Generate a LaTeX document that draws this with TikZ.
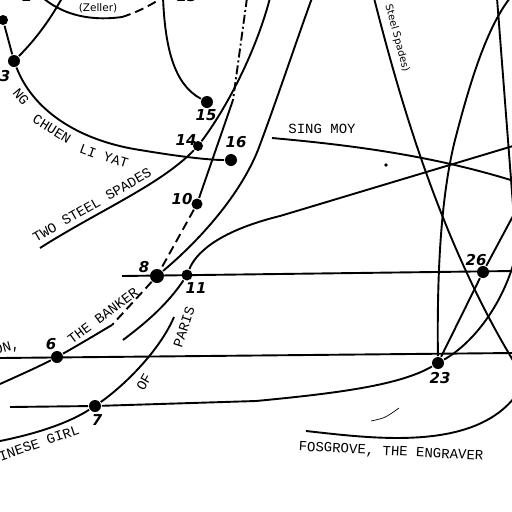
\documentclass[tikz,border=0pt]{standalone}
\usepackage{fontspec}
\newfontfamily\typefont{Liberation Mono}
\newfontfamily\handfont{DejaVu Sans}

\begin{document}
\begin{tikzpicture}
  [x=1pt,y=-1pt,line width=1.9pt,
   event/.style={circle,fill=black,inner sep=0pt,minimum size=12pt},
   num/.style={font=\handfont\bfseries\itshape\fontsize{15}{15}\selectfont,inner sep=0pt},
   typed/.style={font=\typefont\fontsize{14}{14}\selectfont,inner sep=0pt},
   note/.style={font=\handfont\fontsize{10}{10}\selectfont,inner sep=0pt},
   dashline/.style={dash pattern=on 9pt off 5pt},
   dotdash/.style={dash pattern=on 9pt off 3pt on 2pt off 3pt}]
  \useasboundingbox (0,0) rectangle (512,512);
  \clip (0,0) rectangle (512,512);

  % events
  \node[event,minimum size=10pt] (n0) at (3,20) {};
  \node[event] (n3) at (14,61) {};
  \node[event] (n15) at (207,102) {};
  \node[event,minimum size=10pt] (n14) at (198,146) {};
  \node[event] (n16) at (231,160) {};
  \node[event,minimum size=11pt] (n10) at (197,204) {};
  \node[event,minimum size=14pt] (n8) at (157,276) {};
  \node[event,minimum size=11pt] (n11) at (187,275) {};
  \node[event] (n6) at (57,357) {};
  \node[event] (n7) at (95,406) {};
  \node[event] (n23) at (438,363) {};
  \node[event] (n26) at (483,272) {};

  % free ends
  \coordinate (top1) at (43,-2);
  \coordinate (zel) at (122,17);
  \coordinate (top13) at (163,-3);
  \coordinate (top3) at (62,-2);
  \coordinate (spA) at (40,248);
  \coordinate (spB) at (270,-2);
  \coordinate (ddA) at (247,-2);
  \coordinate (ddB) at (233,100);
  \coordinate (bk) at (112,325);
  \coordinate (bkL) at (0,384);
  \coordinate (c8m) at (258,150);
  \coordinate (c8) at (312,-2);
  \coordinate (p11a) at (123,340);
  \coordinate (p11b) at (280,216);
  \coordinate (p11c) at (513,146);
  \coordinate (h1a) at (122,276);
  \coordinate (h1b) at (513,271);
  \coordinate (h2a) at (0,358);
  \coordinate (h2b) at (513,353);
  \coordinate (g1) at (10,407);
  \coordinate (g2) at (256,401);
  \coordinate (g3) at (514,262);
  \coordinate (cg1) at (0,441);
  \coordinate (cg2) at (174,317);
  \coordinate (t23m) at (455,140);
  \coordinate (t23) at (510,-2);
  \coordinate (rv1) at (497,-2);
  \coordinate (rv2) at (513,205);
  \coordinate (ss1) at (374,-2);
  \coordinate (ss2) at (514,362);
  \coordinate (sm1) at (272,138);
  \coordinate (sm2) at (514,181);
  \coordinate (r26) at (513,216);
  \coordinate (fg1) at (306,431);
  \coordinate (fg2) at (514,398);

  % threads
  \draw (top1) .. controls (60,12) and (85,22) .. (zel);
  \draw[dashline] (zel) .. controls (135,13) and (150,6) .. (top13);
  \draw (top13) .. controls (165,50) and (175,85) .. (n15);
  \draw (n3) .. controls (35,40) and (50,20) .. (top3);
  \draw (n3) .. controls (32,108) and (75,140) .. (140,150)
             .. controls (170,155) and (205,160) .. (n16);
  \draw (spA) .. controls (100,210) and (160,185) .. (n14)
              .. controls (225,110) and (255,55) .. (spB);
  \draw[dotdash] (ddA) -- (ddB);
  \draw (ddB) -- (n10);
  \draw[dashline] (n10) -- (n8) -- (bk);
  \draw (bk) .. controls (90,338) and (75,347) .. (n6)
             .. controls (40,366) and (20,375) .. (bkL);
  \draw (n8) .. controls (200,240) and (240,195) .. (c8m)
             .. controls (275,105) and (295,45) .. (c8);
  \draw (p11a) .. controls (140,327) and (165,308) .. (n11)
               .. controls (195,255) and (215,232) .. (p11b) -- (p11c);
  \draw (h1a) -- (h1b);
  \draw (h2a) -- (h2b);
  \draw (g1) -- (n7) -- (g2) .. controls (340,393) and (400,385) .. (n23)
             .. controls (470,345) and (500,310) .. (g3);
  \draw (cg1) .. controls (40,433) and (70,422) .. (n7)
              .. controls (125,385) and (160,350) .. (cg2);
  \draw (n23) .. controls (437,280) and (440,200) .. (t23m)
              .. controls (468,90) and (485,30) .. (t23);
  \draw (rv1) -- (rv2);
  \draw (ss1) .. controls (400,100) and (440,240) .. (ss2);
  \draw (sm1) .. controls (350,145) and (430,155) .. (sm2);
  \foreach \from/\to in {n0/n3, n23/n26, n26/r26}
    \draw (\from) -- (\to);
  \draw (fg1) .. controls (370,438) and (470,452) .. (fg2);
  \draw[line width=.7pt] (371,421) .. controls (385,418) .. (399,408);
  \fill (386,165) circle (1.8pt);

  % numbers
  \node[num] (l1) at (27,-4) {1};
  \node[num] (l13) at (187,-4) {13};
  \node[num] (l3) at (5,76) {3};
  \node[num] (l15) at (206,115) {15};
  \node[num] (l14) at (186,140) {14};
  \node[num] (l16) at (236,142) {16};
  \node[num] (l10) at (182,199) {10};
  \node[num] (l8) at (144,267) {8};
  \node[num] (l11) at (196,288) {11};
  \node[num] (l6) at (51,344) {6};
  \node[num] (l7) at (97,420) {7};
  \node[num] (l23) at (440,378) {23};
  \node[num] (l26) at (476,260) {26};

  % names
  \node[note,font=\handfont\fontsize{10.5}{10.5}\selectfont] (zeller) at (98,8) {(Zeller)};
  \node[note,rotate=-75] (steel) at (397,38) {Steel Spades)};
  \node[typed,rotate=30] (spades) at (92,205) {TWO STEEL SPADES};
  \node[typed,rotate=-50] (ng) at (21,97) {NG};
  \node[typed,rotate=-32] (chuen) at (52,129) {CHUEN};
  \node[typed,rotate=-20] (li) at (88,151) {LI};
  \node[typed,rotate=-17] (yat) at (116,160) {YAT};
  \node[typed] (sing) at (322,129) {SING MOY};
  \node[typed,rotate=37] (banker) at (103,316) {THE BANKER};
  \node[typed,rotate=15] (on) at (7,348) {ON,};
  \node[typed,rotate=19] (girl) at (39,443) {INESE GIRL};
  \node[typed,rotate=60] (of) at (144,382) {OF};
  \node[typed,rotate=72] (paris) at (184,327) {PARIS};
  \node[typed,rotate=-3] (fos) at (391,452) {FOSGROVE, THE ENGRAVER};
\end{tikzpicture}
\end{document}
